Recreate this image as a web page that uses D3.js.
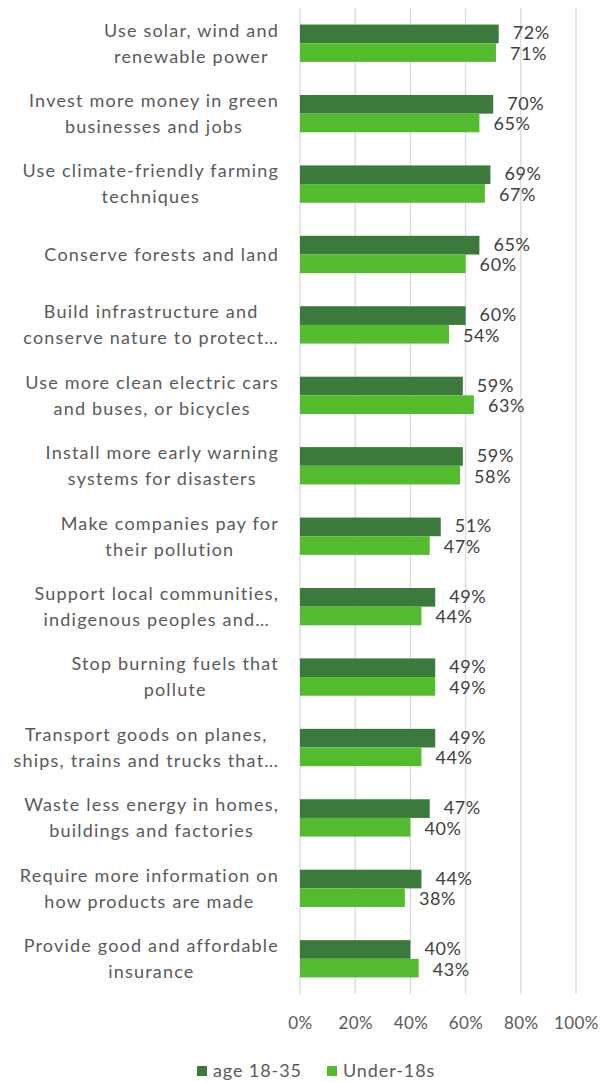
<!DOCTYPE html>
<html>
<head>
<meta charset="utf-8">
<script src="https://cdn.jsdelivr.net/npm/d3@7"></script>
<style>
  html, body { margin: 0; padding: 0; background: #fff; }
  svg { display: block; font-family: Lato, "Open Sans", sans-serif; }
</style>
</head>
<body>
<svg id="chart" width="612" height="1082"></svg>
<script>
// Climate action priorities, share of respondents by age group
const categories = [
  ["Use solar, wind and", "renewable power"],
  ["Invest more money in green", "businesses and jobs"],
  ["Use climate-friendly farming", "techniques"],
  ["Conserve forests and land"],
  ["Build infrastructure and", "conserve nature to protect\u2026"],
  ["Use more clean electric cars", "and buses, or bicycles"],
  ["Install more early warning", "systems for disasters"],
  ["Make companies pay for", "their pollution"],
  ["Support local communities,", "indigenous peoples and\u2026"],
  ["Stop burning fuels that", "pollute"],
  ["Transport goods on planes,", "ships, trains and trucks that\u2026"],
  ["Waste less energy in homes,", "buildings and factories"],
  ["Require more information on", "how products are made"],
  ["Provide good and affordable", "insurance"]
];
const age18to35 = [72, 70, 69, 65, 60, 59, 59, 51, 49, 49, 49, 47, 44, 40];
const under18s  = [71, 65, 67, 60, 54, 63, 58, 47, 44, 49, 44, 40, 38, 43];
const seriesNames = ["age 18-35", "Under-18s"];
const tickValues = [0, 20, 40, 60, 80, 100];

const colors = ["#3b7a3c", "#55bb2e"];
const textColor = "#595959";
const valueColor = "#404040";
const fontFamily = "Lato, 'Open Sans', sans-serif";

const svg = d3.select("#chart");
const plot = { left: 300, right: 576, top: 8, bottom: 994 };

const x = d3.scaleLinear().domain([0, 100]).range([plot.left, plot.right]);
const y = d3.scaleBand().domain(d3.range(categories.length))
  .range([plot.top, plot.bottom]).paddingInner(0.47).paddingOuter(0.235);
const sub = d3.scaleBand().domain([0, 1]).range([0, y.bandwidth()]);

// vertical gridlines
svg.append("g").selectAll("line").data(tickValues).join("line")
  .attr("x1", d => x(d)).attr("x2", d => x(d))
  .attr("y1", plot.top).attr("y2", plot.bottom)
  .attr("stroke", "#d9d9d9").attr("stroke-width", 1.3);

// bottom axis tick labels
const axis = d3.axisBottom(x).tickValues(tickValues).tickFormat(d => d + "%").tickSize(0).tickPadding(0);
const ax = svg.append("g").attr("transform", `translate(0, ${plot.bottom + 23})`).call(axis);
ax.select(".domain").remove();
ax.selectAll("text").attr("fill", textColor).style("font-size", "17px")
  .style("font-family", fontFamily).style("letter-spacing", "0.4px");

// bars with value labels
const series = [age18to35, under18s];
const labelNudge = [-1, 1];
const groups = svg.append("g").selectAll("g").data(categories).join("g")
  .attr("transform", (d, i) => `translate(0, ${y(i)})`);

groups.each(function (d, i) {
  const g = d3.select(this);
  series.forEach((vals, s) => {
    g.append("rect")
      .attr("x", x(0)).attr("y", sub(s))
      .attr("width", x(vals[i]) - x(0)).attr("height", sub.bandwidth())
      .attr("fill", colors[s]);
    g.append("text")
      .attr("x", x(vals[i]) + 14).attr("y", sub(s) + sub.bandwidth() / 2 + labelNudge[s])
      .attr("dy", "0.36em")
      .attr("fill", valueColor).style("font-size", "18px").style("letter-spacing", "0.6px")
      .text(vals[i] + "%");
  });
});

// category labels: each wrapped block is right-aligned, lines centred within it
const labelRight = 279;
categories.forEach((lines, i) => {
  const cy = y(i) + y.bandwidth() / 2;
  const t = svg.append("text").attr("fill", textColor)
    .style("font-size", "18px").style("letter-spacing", "1.2px")
    .attr("text-anchor", "middle");
  const spans = lines.map((line, k) => t.append("tspan")
    .attr("y", cy + (k - (lines.length - 1) / 2) * 26)
    .attr("dy", "0.35em").text(line));
  const w = d3.max(spans, s => s.node().getComputedTextLength());
  spans.forEach(s => s.attr("x", labelRight - w / 2));
});

// legend
const legend = svg.append("g").attr("transform", "translate(197, 1071)");
const lx = [0, 130];
seriesNames.forEach((name, s) => {
  legend.append("rect").attr("x", lx[s]).attr("y", -5).attr("width", 10).attr("height", 10)
    .attr("fill", colors[s]);
  legend.append("text").attr("x", lx[s] + 16).attr("y", 0).attr("dy", "0.36em")
    .attr("fill", textColor).style("font-size", "18px").style("letter-spacing", "0.9px")
    .text(name);
});
</script>
</body>
</html>
